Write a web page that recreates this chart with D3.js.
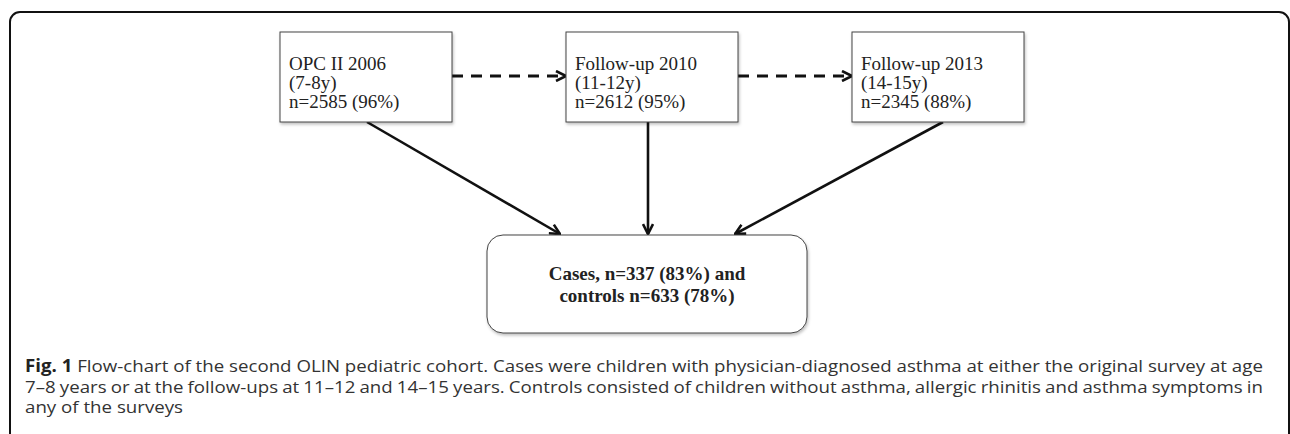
<!DOCTYPE html>
<html>
<head>
<meta charset="utf-8">
<script src="https://cdn.jsdelivr.net/npm/d3@7"></script>
<style>
  html, body { margin: 0; padding: 0; background: #fff; }
  svg { display: block; }
</style>
</head>
<body>
<div class="chart"></div>
<script>
// survey waves, left to right
const stages = ['OPC II 2006', 'Follow-up 2010', 'Follow-up 2013'];
const ages = ['(7-8y)', '(11-12y)', '(14-15y)'];
const counts = ['n=2585 (96%)', 'n=2612 (95%)', 'n=2345 (88%)'];

// result box
const resultLines = ['Cases, n=337 (83%) and', 'controls n=633 (78%)'];

// caption
const captionLabel = 'Fig. 1';
const captionLines = [
  ' Flow-chart of the second OLIN pediatric cohort. Cases were children with physician-diagnosed asthma at either the original survey at age',
  '7\u20138 years or at the follow-ups at 11\u201312 and 14\u201315 years. Controls consisted of children without asthma, allergic rhinitis and asthma symptoms in',
  'any of the surveys'
];

const width = 1290, height = 434;
const boxW = 172, boxH = 90, boxTop = 32;

const svg = d3.select('.chart')
  .append('svg')
  .attr('width', width)
  .attr('height', height);

const defs = svg.append('defs');

// soft shadow under the boxes
const shadow = defs.append('filter')
  .attr('id', 'shadow')
  .attr('x', '-10%').attr('y', '-10%')
  .attr('width', '130%').attr('height', '140%');
shadow.append('feDropShadow')
  .attr('dx', 1).attr('dy', 2)
  .attr('stdDeviation', 1.5)
  .attr('flood-color', '#000')
  .attr('flood-opacity', 0.25);

// open chevron arrowhead
defs.append('marker')
  .attr('id', 'chevron')
  .attr('viewBox', '0 0 12 12')
  .attr('refX', 11).attr('refY', 6)
  .attr('markerWidth', 12).attr('markerHeight', 12)
  .attr('markerUnits', 'userSpaceOnUse')
  .attr('orient', 'auto')
  .append('path')
  .attr('d', 'M1,1 L11,6 L1,11')
  .attr('fill', 'none')
  .attr('stroke', '#111')
  .attr('stroke-width', 2.6)
  .attr('stroke-dasharray', 'none');

// outer frame (runs off the bottom of the page)
svg.append('rect')
  .attr('x', 10).attr('y', 12)
  .attr('width', 1279).attr('height', 480)
  .attr('rx', 10)
  .attr('fill', 'none')
  .attr('stroke', '#111')
  .attr('stroke-width', 2);

// box centers
const x = d3.scalePoint()
  .domain(stages)
  .range([366, 938]);

const waves = stages.map((s, i) => ({ stage: s, age: ages[i], n: counts[i] }));

// result box geometry
const res = { x: 487, y: 235, w: 320, h: 98 };
const resCx = res.x + res.w / 2;

// dashed arrows between waves
svg.selectAll('.follow')
  .data(waves.slice(0, -1))
  .enter().append('line')
  .attr('class', 'follow')
  .attr('x1', d => x(d.stage) + boxW / 2)
  .attr('x2', (d, i) => x(stages[i + 1]) - boxW / 2)
  .attr('y1', 76).attr('y2', 76)
  .attr('stroke', '#111')
  .attr('stroke-width', 3)
  .attr('stroke-dasharray', '11 8')
  .attr('marker-end', 'url(#chevron)');

// solid arrows down to result box
const tipX = [560, 648, 735];
svg.selectAll('.toResult')
  .data(waves)
  .enter().append('line')
  .attr('class', 'toResult')
  .attr('x1', (d, i) => i === 1 ? 648 : x(d.stage) + (i === 0 ? 1 : 5))
  .attr('y1', boxTop + boxH)
  .attr('x2', (d, i) => tipX[i])
  .attr('y2', res.y - 1)
  .attr('stroke', '#111')
  .attr('stroke-width', 2.6)
  .attr('marker-end', 'url(#chevron)');

// wave boxes
const boxes = svg.selectAll('.wave')
  .data(waves)
  .enter().append('g')
  .attr('class', 'wave')
  .attr('transform', d => `translate(${x(d.stage) - boxW / 2},${boxTop})`);

boxes.append('rect')
  .attr('width', boxW)
  .attr('height', boxH)
  .attr('fill', '#fff')
  .attr('stroke', '#444')
  .attr('stroke-width', 1)
  .attr('filter', 'url(#shadow)');

boxes.each(function (d) {
  const g = d3.select(this);
  [d.stage, d.age, d.n].forEach((t, j) => {
    g.append('text')
      .attr('x', 9)
      .attr('y', 38 + j * 19)
      .attr('font-family', '"Liberation Serif", "Times New Roman", serif')
      .attr('font-size', 19)
      .attr('fill', '#222')
      .text(t);
  });
});

// result box
svg.append('rect')
  .attr('x', res.x).attr('y', res.y)
  .attr('width', res.w).attr('height', res.h)
  .attr('rx', 16)
  .attr('fill', '#fff')
  .attr('stroke', '#444')
  .attr('stroke-width', 1)
  .attr('filter', 'url(#shadow)');

svg.selectAll('.resText')
  .data(resultLines)
  .enter().append('text')
  .attr('class', 'resText')
  .attr('x', resCx)
  .attr('y', (d, i) => 280 + i * 22)
  .attr('text-anchor', 'middle')
  .attr('font-family', '"Liberation Serif", "Times New Roman", serif')
  .attr('font-weight', 'bold')
  .attr('font-size', 19)
  .attr('fill', '#222')
  .text(d => d);

// caption: one shared horizontal scale from line 1, line 2 justified with word spacing
const capFont = '"Open Sans", "Noto Sans", sans-serif';
const capSize = 17;
const capLeft = 25, capRight = 1263;
const capG = svg.append('g');
const capTexts = captionLines.map((line, i) => {
  const t = capG.append('text')
    .attr('x', 0)
    .attr('y', 372.5 + i * 20.5)
    .attr('font-family', capFont)
    .attr('font-size', capSize)
    .attr('fill', '#333');
  if (i === 0) {
    t.append('tspan')
      .attr('font-weight', 'bold')
      .attr('fill', '#222')
      .text(captionLabel);
  }
  t.append('tspan').text(line);
  return t;
});
const len0 = capTexts[0].node().getComputedTextLength();
const sx = (capRight - capLeft) / len0;
capG.attr('transform', `translate(${capLeft},0) scale(${sx},1)`);
const len1 = capTexts[1].node().getComputedTextLength();
const spaces1 = (captionLines[1].match(/ /g) || []).length;
capTexts[1].attr('word-spacing', (len0 - len1) / spaces1);
</script>
</body>
</html>
